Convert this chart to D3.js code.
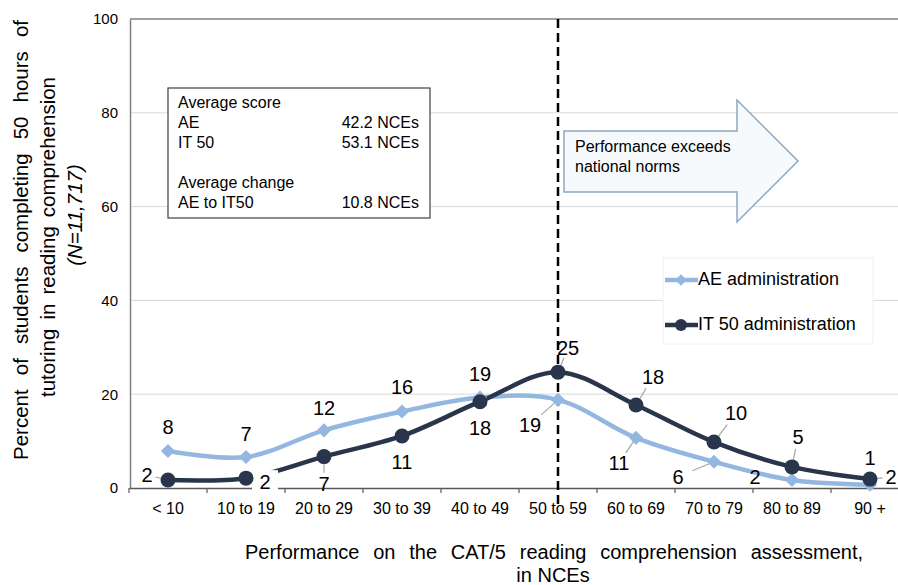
<!DOCTYPE html>
<html lang="en">
<head>
    <meta charset="UTF-8">
    <title>Tutoring - reading comprehension</title>
    <style>
        body{ margin:0; background:#fff;}
        svg{ display:block; font-family:"Liberation Sans", Arial, sans-serif;}
        text{ fill:#000;}
    </style>
</head>
<body>

<script src="https://cdn.jsdelivr.net/npm/d3@7"></script>
<script>

var categories = ["< 10", "10 to 19", "20 to 29", "30 to 39", "40 to 49",
                  "50 to 59", "60 to 69", "70 to 79", "80 to 89", "90 +"];
var aeValues = [7.9, 6.6, 12.3, 16.3, 19.3, 18.8, 10.7, 5.6, 1.7, 0.7];
var itValues = [1.7, 2.1, 6.7, 11.1, 18.4, 24.7, 17.7, 9.8, 4.5, 1.9];
var yTicks = [0, 20, 40, 60, 80, 100];
var seriesNames = ["AE administration", "IT 50 administration"];
var normCategory = "50 to 59";

var infoLines = [
    ["Average score", ""],
    ["AE", "42.2 NCEs"],
    ["IT 50", "53.1 NCEs"],
    ["", ""],
    ["Average change", ""],
    ["AE to IT50", "10.8 NCEs"]
];

// label placement (offsets from the point), leader line flag, white box flag
var aeLabelPos = [
    [0,-24,0], [0,-23,0], [0,-23,0], [0,-25,0], [0,-24,0],
    [-28,25,1], [-17,25,1], [-36,15,1], [-37,-3,0], [0,-27,0]
];
var itLabelPos = [
    [-21,-5,1], [19,4,0,1], [0,27,1], [0,26,0], [0,26,0],
    [10,-24,1], [17,-28,1], [22,-29,1], [6,-30,1], [21,-2,1]
];

var aeColor = "#93b7e0",
    itColor = "#29354a";

var svg = d3.select("body").append("svg")
        .attr("width", 898)
        .attr("height", 585);

var x = d3.scaleBand().domain(categories).range([129, 909]);
var y = d3.scaleLinear().domain([0, 100]).range([488, 19]);
function cx(c){ return x(c) + x.bandwidth()/2; }

function fitWords(sel, target){
    var n = sel.node();
    var len = n.getComputedTextLength();
    var spaces = (n.textContent.match(/ /g) || []).length;
    if (spaces && target > len) sel.attr("word-spacing", ((target - len) / spaces).toFixed(2));
}

//grid
svg.append("g").selectAll("line")
    .data(yTicks.filter(function(d){ return d > 0 && d < 100; }))
    .enter().append("line")
    .attr("x1", 130).attr("x2", 909)
    .attr("y1", function(d){ return y(d); }).attr("y2", function(d){ return y(d); })
    .attr("stroke", "#d9d9d9").attr("stroke-width", 1);

//frame top
svg.append("line")
    .attr("x1", 130).attr("x2", 909).attr("y1", y(100)).attr("y2", y(100))
    .attr("stroke", "#808080").attr("stroke-width", 1.5);

//y axis
var yAxis = svg.append("g").attr("transform", "translate(130,0)")
    .call(d3.axisLeft(y).tickValues(yTicks).tickSize(0).tickPadding(12));
yAxis.select(".domain").attr("stroke", "#808080").attr("stroke-width", 1.5);
yAxis.selectAll("text").attr("font-size", 15).attr("font-family", null).attr("fill", "#222");

//x axis
var xAxis = svg.append("g").attr("transform", "translate(0," + y(0) + ")")
    .call(d3.axisBottom(x).tickSize(0).tickPadding(15));
xAxis.select(".domain").attr("stroke", "#595959").attr("stroke-width", 1.5);
xAxis.selectAll("text").attr("font-size", 16).attr("font-family", null).attr("fill", "#222");
xAxis.selectAll(".tick line").remove();
xAxis.append("g").selectAll("line")
    .data(categories.map(function(c){ return x(c); }).concat([x.range()[1]]))
    .enter().append("line")
    .attr("x1", function(d){ return d; }).attr("x2", function(d){ return d; })
    .attr("y1", 0).attr("y2", 5)
    .attr("stroke", "#595959").attr("stroke-width", 1.2);

//info box
var info = svg.append("g");
info.append("rect").attr("x", 168).attr("y", 88).attr("width", 262).attr("height", 130)
    .attr("fill", "#fff").attr("stroke", "#404040").attr("stroke-width", 1.2);
infoLines.forEach(function(l, i){
    info.append("text").attr("x", 178).attr("y", 108 + i*20).attr("font-size", 16).text(l[0]);
    info.append("text").attr("x", 419).attr("y", 108 + i*20).attr("font-size", 16)
        .attr("text-anchor", "end").text(l[1]);
});

//arrow
var ax = cx(normCategory) + 6;
var arrowPts = [[ax,131],[737,131],[737,100],[798,161],[737,222],[737,192],[ax,192]];
svg.append("path")
    .attr("d", "M" + arrowPts.join("L") + "Z")
    .attr("fill", "#f7fafd").attr("stroke", "#8ea7c2").attr("stroke-width", 1.5);
svg.append("text").attr("x", ax + 11).attr("y", 152).attr("font-size", 16).text("Performance exceeds");
svg.append("text").attr("x", ax + 11).attr("y", 172).attr("font-size", 16).text("national norms");

//norm line
svg.append("line")
    .attr("x1", cx(normCategory)).attr("x2", cx(normCategory))
    .attr("y1", y(100)).attr("y2", y(0) + 18)
    .attr("stroke", "#000").attr("stroke-width", 2.5).attr("stroke-dasharray", "9,5");

//series
var line = d3.line()
    .x(function(d, i){ return cx(categories[i]); })
    .y(function(d){ return y(d); })
    .curve(d3.curveCatmullRom.alpha(0.5));

function drawSeries(values, color, width){
    svg.append("path").datum(values)
        .attr("d", line)
        .attr("fill", "none").attr("stroke", color).attr("stroke-width", width)
        .attr("stroke-linejoin", "round");
}
drawSeries(aeValues, aeColor, 4.5);
drawSeries(itValues, itColor, 4.5);

//labels + leaders
function drawLabels(values, pos){
    values.forEach(function(v, i){
        var px = cx(categories[i]), py = y(v), p = pos[i];
        if (p[2]) {
            svg.append("line")
                .attr("x1", px).attr("y1", py)
                .attr("x2", px + p[0]*0.6).attr("y2", py + p[1]*0.6)
                .attr("stroke", "#a6a6a6").attr("stroke-width", 1.2);
        }
        if (p[3]) {
            svg.append("rect")
                .attr("x", px + p[0] - 13).attr("y", py + p[1] - 12)
                .attr("width", 26).attr("height", 24).attr("fill", "#fff");
        }
        svg.append("text")
            .attr("x", px + p[0]).attr("y", py + p[1])
            .attr("dy", "0.36em")
            .attr("text-anchor", "middle")
            .attr("font-size", 20)
            .text(Math.round(v));
    });
}

function drawMarkers(values, type){
    values.forEach(function(v, i){
        var px = cx(categories[i]), py = y(v);
        if (type == "diamond") {
            svg.append("path")
                .attr("d", d3.symbol(d3.symbolSquare, 100)())
                .attr("transform", "translate(" + px + "," + py + ") rotate(45)")
                .attr("fill", aeColor);
        } else {
            svg.append("circle").attr("cx", px).attr("cy", py).attr("r", 7.5)
                .attr("fill", itColor);
        }
    });
}

drawLabels(aeValues, aeLabelPos);
drawLabels(itValues, itLabelPos);
drawMarkers(aeValues, "diamond");
drawMarkers(itValues, "circle");

//legend
var legend = svg.append("g");
legend.append("rect").attr("x", 663).attr("y", 258).attr("width", 210).attr("height", 86)
    .attr("fill", "#fff").attr("stroke", "#f0f0f0");
[[aeColor, "diamond"], [itColor, "circle"]].forEach(function(s, i){
    var ly = 280 + i*45;
    legend.append("line").attr("x1", 665).attr("x2", 698).attr("y1", ly).attr("y2", ly)
        .attr("stroke", s[0]).attr("stroke-width", 4.5);
    if (s[1] == "diamond") {
        legend.append("path").attr("d", d3.symbol(d3.symbolSquare, 64)())
            .attr("transform", "translate(681," + ly + ") rotate(45)").attr("fill", s[0]);
    } else {
        legend.append("circle").attr("cx", 681).attr("cy", ly).attr("r", 6).attr("fill", s[0]);
    }
    legend.append("text").attr("x", 698).attr("y", ly + 5).attr("font-size", 18)
        .text(seriesNames[i]);
});

//axis titles
var t1 = svg.append("text").attr("transform", "translate(28,240) rotate(-90)")
    .attr("text-anchor", "middle").attr("font-size", 20.5)
    .text("Percent of students completing 50 hours of");
fitWords(t1, 440);
var t2 = svg.append("text").attr("transform", "translate(55,237) rotate(-90)")
    .attr("text-anchor", "middle").attr("font-size", 20.5)
    .text("tutoring in reading comprehension");
fitWords(t2, 320);
svg.append("text").attr("transform", "translate(82,215) rotate(-90)")
    .attr("text-anchor", "middle").attr("font-size", 20.5).attr("font-style", "italic")
    .text("(N=11,717)");

var xt = svg.append("text").attr("x", 554).attr("y", 559)
    .attr("text-anchor", "middle").attr("font-size", 20)
    .text("Performance on the CAT/5 reading comprehension assessment,");
fitWords(xt, 618);
svg.append("text").attr("x", 553).attr("y", 582)
    .attr("text-anchor", "middle").attr("font-size", 20)
    .text("in NCEs");

</script>

</body>
</html>
